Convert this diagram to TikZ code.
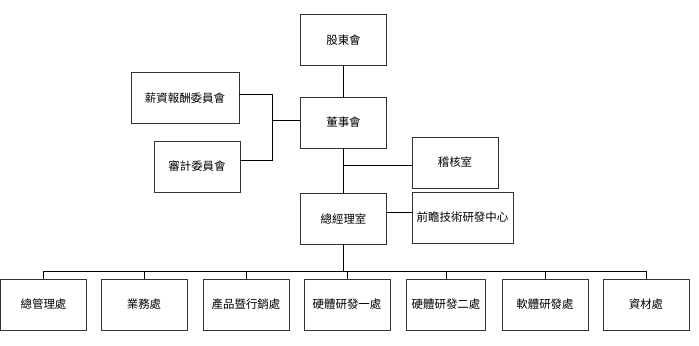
\documentclass[tikz,border=0pt]{standalone}
\usepackage{fontspec}
\newfontfamily\cjk{Noto Sans CJK TC}
\usepackage{tikz}
\usetikzlibrary{positioning}

\begin{document}
\begin{tikzpicture}[x=1bp,y=-1bp,
  u/.style={draw=black!80,line width=0.9bp,minimum width=86bp,minimum height=51bp,inner sep=0pt,
    font=\cjk\fontsize{11.5}{13}\selectfont},
  ln/.style={line width=0.8bp},
  trunk/.style={line width=1.3bp}]
\useasboundingbox (0,0) rectangle (699,345);
% top of the chart
\node[u] (gdh) at (343.5,40) {股東會};
\node[u] (dsh) at (343.5,122.5) {董事會};
\node[u,minimum width=108bp] (xcw) at (185,98) {薪資報酬委員會};
\node[u] (sjw) at (197,166.5) {審計委員會};
\node[u] (jhs) at (455,162.5) {稽核室};
\node[u] (zjl) at (343.5,218.5) {總經理室};
\node[u,minimum width=101bp] (qzz) at (462.5,217.5) {前瞻技術研發中心};
% departments
\node[u] (zgl) at (43.5,304.5) {總管理處};
\node[u] (ywc) at (144,304.5) {業務處};
\node[u] (cpx) at (246,304.5) {產品暨行銷處};
\node[u] (yt1) at (347,304.5) {硬體研發一處};
\node[u,minimum width=79bp] (yt2) at (446,304.5) {硬體研發二處};
\node[u] (rtf) at (545,304.5) {軟體研發處};
\node[u] (zcc) at (646,304.5) {資材處};
\coordinate (brk) at (272.5,120);
\coordinate (bus) at (343.5,271);
% connectors
\draw[ln] (gdh) -- (dsh);
\draw[ln] ([yshift=4bp]xcw.east) -| (brk);
\draw[ln] ([yshift=6bp]sjw.east) -| (brk);
\draw[ln] (brk) -- (brk -| dsh.west);
\draw[ln] (dsh) -- (zjl);
\draw[ln] ([yshift=-2.5bp]jhs.west) -- ([yshift=-2.5bp]jhs.west -| dsh);
\draw[ln] ([yshift=5.5bp]qzz.west) -- ([yshift=5.5bp]qzz.west -| zjl.east);
\draw[trunk] (zjl) -- (bus);
\draw[ln] (zgl.north |- bus) -- (zcc.north |- bus);
\draw[ln] (zgl.north) -- (zgl.north |- bus);
\draw[ln] (ywc.north) -- (ywc.north |- bus);
\draw[ln] (cpx.north) -- (cpx.north |- bus);
\draw[ln] (yt1.north) -- (yt1.north |- bus);
\draw[ln] (yt2.north) -- (yt2.north |- bus);
\draw[ln] (rtf.north) -- (rtf.north |- bus);
\draw[ln] (zcc.north) -- (zcc.north |- bus);
\end{tikzpicture}
\end{document}
